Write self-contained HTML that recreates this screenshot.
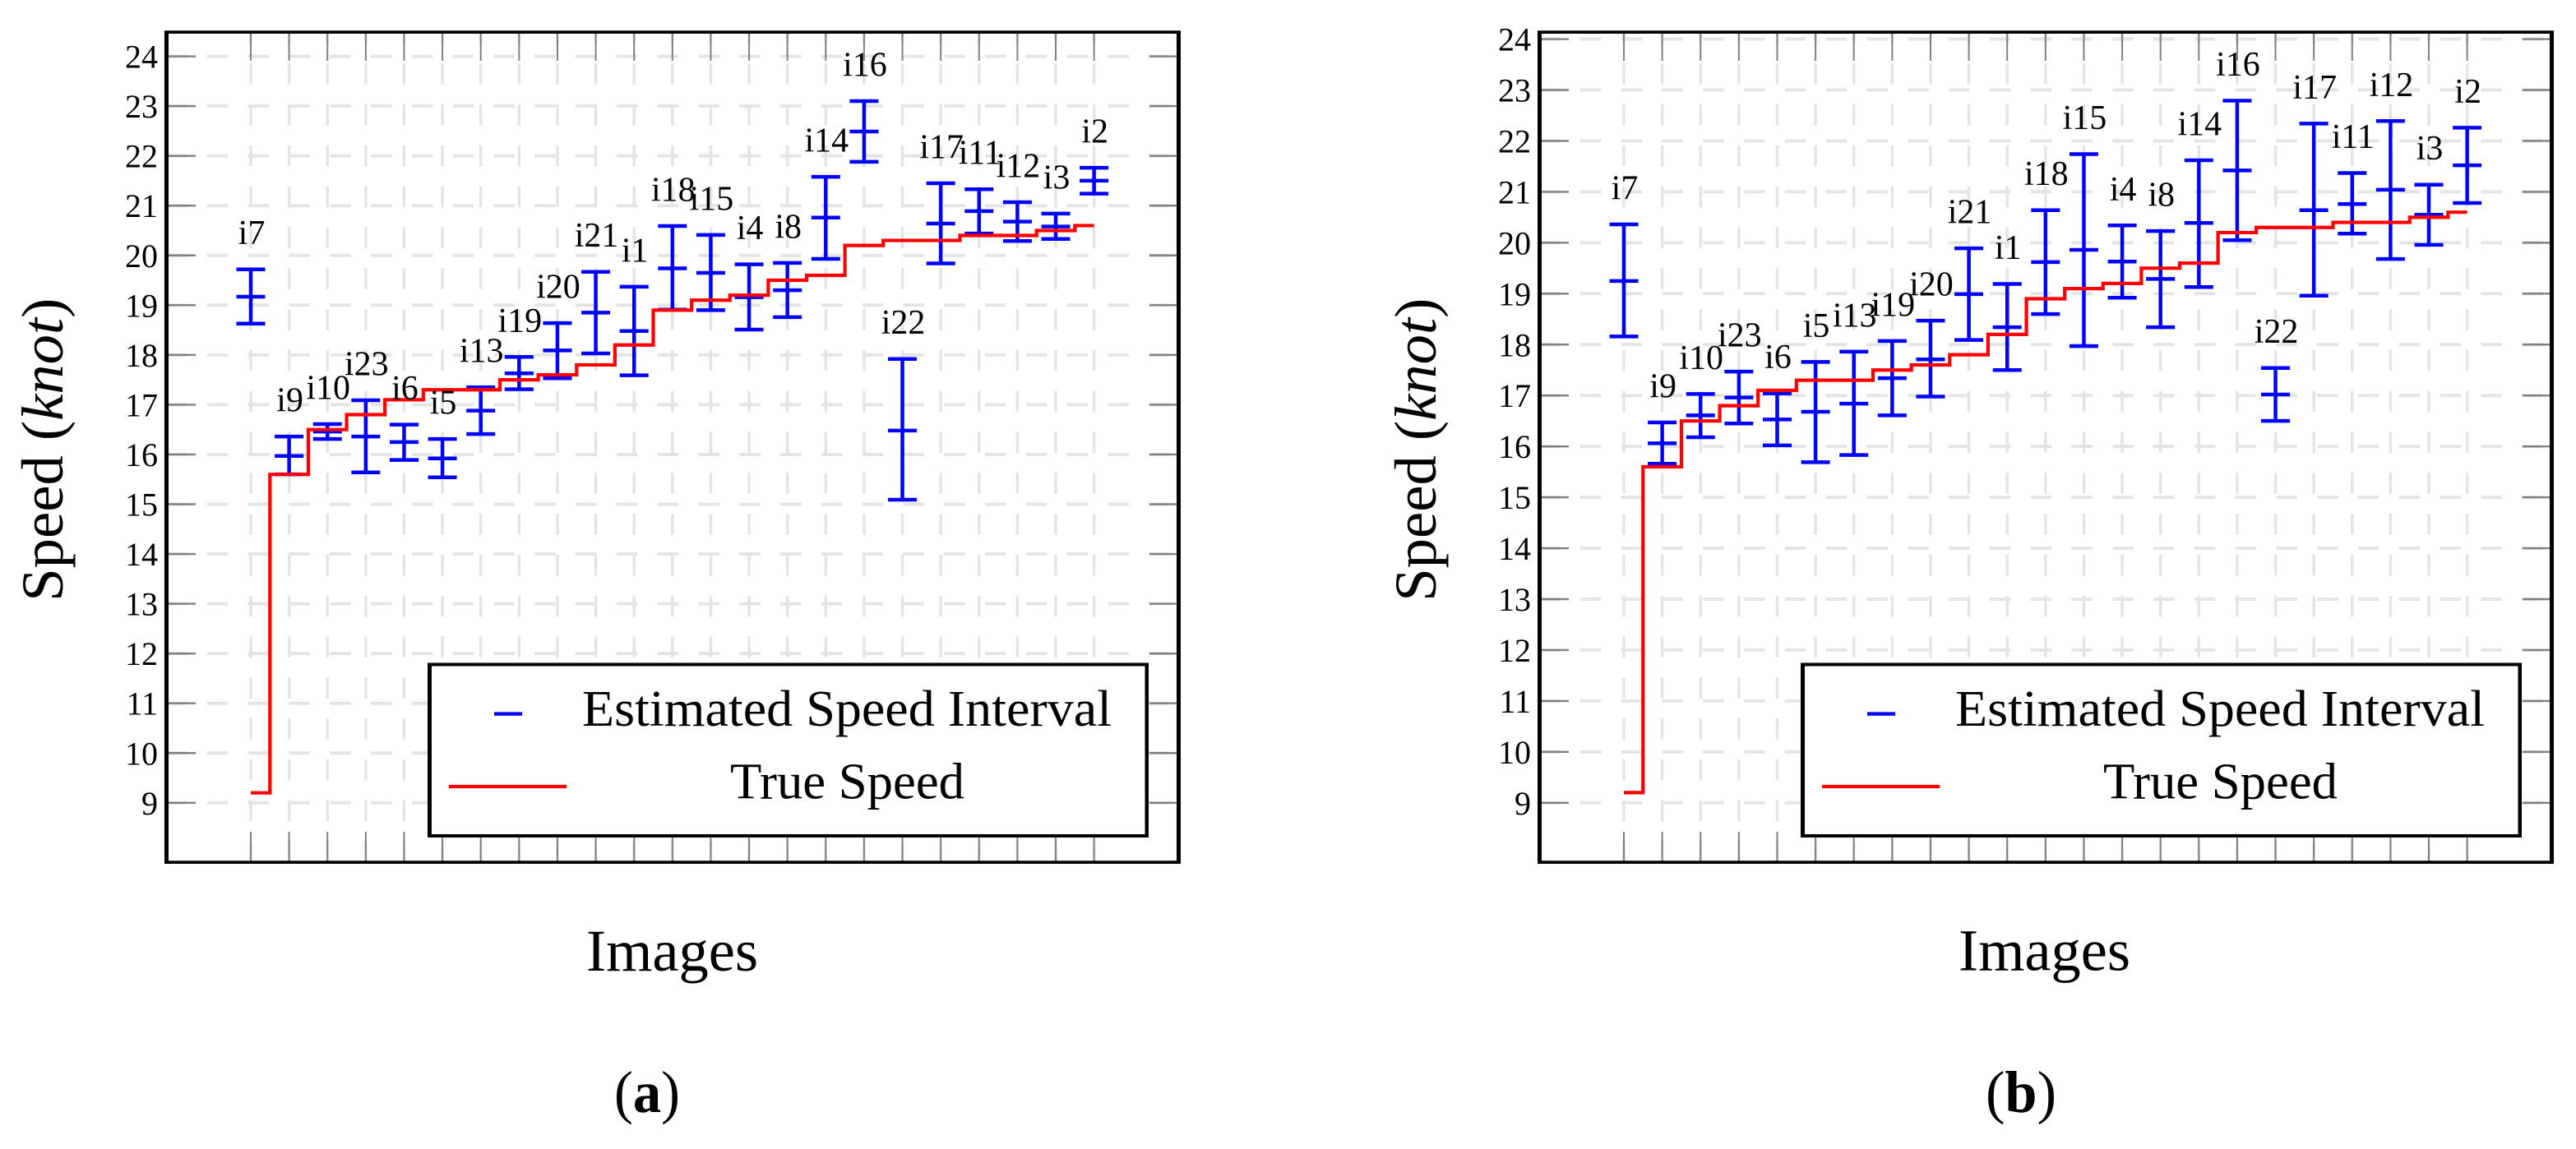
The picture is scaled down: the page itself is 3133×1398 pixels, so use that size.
<!DOCTYPE html>
<html lang="en">
<head>
<meta charset="utf-8">
<title>Speed estimation intervals</title>
<style>
html,body{margin:0;padding:0;background:#fff;}
body{width:3133px;height:1398px;overflow:hidden;}
svg{display:block;}
text{font-family:"Liberation Serif",serif;fill:#000;}
</style>
</head>
<body>
<svg id="figure" xmlns="http://www.w3.org/2000/svg" width="3133" height="1398" viewBox="0 0 3133 1398">
  <rect x="0" y="0" width="3133" height="1398" fill="#fff"/>

  <g id="panel-a">
    <g id="panel-a-plot"></g>
    <g>
      <path fill="#fff" d="M520 806.5H1397V1019H520Z"/>
      <path fill="#000" fill-rule="evenodd" d="M520 806.5H1397V1019H520Z M525 810.5V1015H1392.5V810.5Z"/>
      <line x1="601" x2="635" y1="868.6" y2="868.6" stroke="#0000ff" stroke-width="4.4"/>
      <text x="708" y="883" font-size="62" textLength="644" lengthAdjust="spacingAndGlyphs">Estimated Speed Interval</text>
      <line x1="546" x2="689" y1="957" y2="957" stroke="#ff0000" stroke-width="4.2"/>
      <text x="888" y="971.5" font-size="62" textLength="285" lengthAdjust="spacingAndGlyphs">True Speed</text>
    </g>
    <path fill="#000" fill-rule="evenodd" d="M200 37.3H1436V1051H200Z M205 41V1047.3H1431V41Z"/>
    <text transform="translate(76,731.7) rotate(-90)" font-size="72" textLength="369" lengthAdjust="spacingAndGlyphs">Speed (<tspan font-style="italic">knot</tspan>)</text>
    <text x="713" y="1181" font-size="72" textLength="209" lengthAdjust="spacingAndGlyphs">Images</text>
    <text x="747" y="1353" font-size="72" textLength="80" lengthAdjust="spacingAndGlyphs">(<tspan font-weight="bold">a</tspan>)</text>
  </g>

  <g id="panel-b" transform="translate(1670,0)">
    <g id="panel-b-plot"></g>
    <g>
      <path fill="#fff" d="M520 806.5H1397V1019H520Z"/>
      <path fill="#000" fill-rule="evenodd" d="M520 806.5H1397V1019H520Z M525 810.5V1015H1392.5V810.5Z"/>
      <line x1="601" x2="635" y1="868.6" y2="868.6" stroke="#0000ff" stroke-width="4.4"/>
      <text x="708" y="883" font-size="62" textLength="644" lengthAdjust="spacingAndGlyphs">Estimated Speed Interval</text>
      <line x1="546" x2="689" y1="957" y2="957" stroke="#ff0000" stroke-width="4.2"/>
      <text x="888" y="971.5" font-size="62" textLength="285" lengthAdjust="spacingAndGlyphs">True Speed</text>
    </g>
    <path fill="#000" fill-rule="evenodd" d="M200 37.3H1436V1051H200Z M205 41V1047.3H1431V41Z"/>
    <text transform="translate(76,731.7) rotate(-90)" font-size="72" textLength="369" lengthAdjust="spacingAndGlyphs">Speed (<tspan font-style="italic">knot</tspan>)</text>
    <text x="712" y="1180.5" font-size="72" textLength="209" lengthAdjust="spacingAndGlyphs">Images</text>
    <text x="745" y="1353" font-size="72" textLength="86" lengthAdjust="spacingAndGlyphs">(<tspan font-weight="bold">b</tspan>)</text>
  </g>
</svg>

<script>
const categories = ["i7","i9","i10","i23","i6","i5","i13","i19","i20","i21","i1","i18","i15","i4","i8","i14","i16","i22","i17","i11","i12","i3","i2"];
const trueSpeed = [9.2,15.6,16.5,16.8,17.1,17.3,17.3,17.5,17.6,17.8,18.2,18.9,19.1,19.2,19.5,19.6,20.2,20.3,20.3,20.4,20.4,20.5,20.6];
const yTickValues = [9,10,11,12,13,14,15,16,17,18,19,20,21,22,23,24];

const upperA = [19.72,16.36,16.61,17.09,16.60,16.31,17.35,17.96,18.64,19.67,19.37,20.59,20.41,19.82,19.85,21.58,23.10,17.92,21.45,21.33,21.07,20.84,21.76];
const midA   = [19.17,15.97,16.46,16.36,16.25,15.92,16.88,17.63,18.09,18.85,18.48,19.74,19.65,19.16,19.30,20.76,22.49,16.48,20.64,20.89,20.68,20.58,21.50];
const lowerA = [18.63,15.60,16.31,15.64,15.89,15.54,16.41,17.31,17.53,18.03,17.59,18.91,18.90,18.51,18.76,19.93,21.88,15.09,19.84,20.44,20.29,20.33,21.24];

const upperB = [20.36,16.47,17.03,17.47,17.04,17.66,17.86,18.07,18.47,19.89,19.19,20.64,21.74,20.34,20.23,21.62,22.79,17.54,22.34,21.37,22.39,21.14,22.26];
const midB   = [19.25,16.06,16.61,16.96,16.53,16.68,16.84,17.34,17.71,18.99,18.34,19.62,19.86,19.63,19.29,20.39,21.42,17.02,20.64,20.76,21.04,20.55,21.52];
const lowerB = [18.16,15.66,16.18,16.45,16.02,15.69,15.83,16.61,16.98,18.09,17.50,18.60,17.97,18.92,18.34,19.13,20.05,16.50,18.96,20.18,19.68,19.96,20.78];

const SVG_NS = "http://www.w3.org/2000/svg";

function make(tag, attrs, parent) {
  const node = document.createElementNS(SVG_NS, tag);
  Object.keys(attrs).forEach(function (k) { node.setAttribute(k, attrs[k]); });
  parent.appendChild(node);
  return node;
}

function xScale(index) {
  return 305 + index * 46.62;
}

function makeYScale(pixelsPerKnot) {
  return function (v) { return 976.8 - (v - 9) * pixelsPerKnot; };
}

function drawPanel(plot, upper, mid, lower, yScale, suffix) {
  const gridColor = "#e4e4e4";
  const tickColor = "#808080";

  const grid = make("g", {}, plot);
  
  
  yTickValues.forEach(function (v) {
    const line = make("line", {x1: 202, x2: 1434, y1: yScale(v), y2: yScale(v), stroke: gridColor, "stroke-width": 4, "stroke-dasharray": "25.5 24.3"}, grid);
    
    
  });
  categories.forEach(function (c, i) {
    const line = make("line", {x1: xScale(i), x2: xScale(i), y1: 1049, y2: 39, stroke: gridColor, "stroke-width": 3.5, "stroke-dasharray": "25.5 24.3"}, grid);
    
    
  });

  const ticks = make("g", {}, plot);
  
  
  yTickValues.forEach(function (v) {
    const y = yScale(v);
    const left = make("line", {x1: 204, x2: 238, y1: y, y2: y, stroke: tickColor, "stroke-width": 2.4}, ticks);
    
    
    const right = make("line", {x1: 1398, x2: 1432, y1: y, y2: y, stroke: tickColor, "stroke-width": 2.4}, ticks);
    
    
    const label = make("text", {x: 192, y: y + 14, "text-anchor": "end", "font-size": 40}, ticks);
    
    
    label.textContent = String(v);
  });
  categories.forEach(function (c, i) {
    const x = xScale(i);
    const top = make("line", {x1: x, x2: x, y1: 40, y2: 74, stroke: tickColor, "stroke-width": 2}, ticks);
    
    
    const bottom = make("line", {x1: x, x2: x, y1: 1012, y2: 1048, stroke: tickColor, "stroke-width": 2}, ticks);
    
    
  });

  const intervals = make("g", {stroke: "#0000ff", "stroke-width": 4.5, fill: "none"}, plot);
  
  
  categories.forEach(function (c, i) {
    const x = xScale(i);
    const hw = 17.5;
    const d = "M" + x + " " + yScale(upper[i]) + "V" + yScale(lower[i]) +
      "M" + (x - hw) + " " + yScale(upper[i]) + "H" + (x + hw) +
      "M" + (x - hw) + " " + yScale(mid[i]) + "H" + (x + hw) +
      "M" + (x - hw) + " " + yScale(lower[i]) + "H" + (x + hw);
    const bar = make("path", {d: d}, intervals);
    
    
  });

  let stepPath = "M" + xScale(0) + " " + yScale(trueSpeed[0]);
  for (let i = 1; i < trueSpeed.length; i++) {
    const midX = (xScale(i - 1) + xScale(i)) / 2;
    stepPath += "H" + midX + "V" + yScale(trueSpeed[i]);
  }
  stepPath += "H" + xScale(trueSpeed.length - 1);
  const stepLine = make("path", {d: stepPath, fill: "none", stroke: "#ff0000", "stroke-width": 4.2, "stroke-linejoin": "miter"}, plot);
  
  

  const labels = make("g", {"font-size": 42, "text-anchor": "middle"}, plot);
  
  
  categories.forEach(function (c, i) {
    const t = make("text", {x: xScale(i) + 1, y: yScale(upper[i]) - 30.5}, labels);
    
    
    t.textContent = c;
  });
}

drawPanel(document.getElementById("panel-a-plot"), upperA, midA, lowerA, makeYScale(60.55), "a");
drawPanel(document.getElementById("panel-b-plot"), upperB, midB, lowerB, makeYScale(61.95), "b");
</script>
</body>
</html>
